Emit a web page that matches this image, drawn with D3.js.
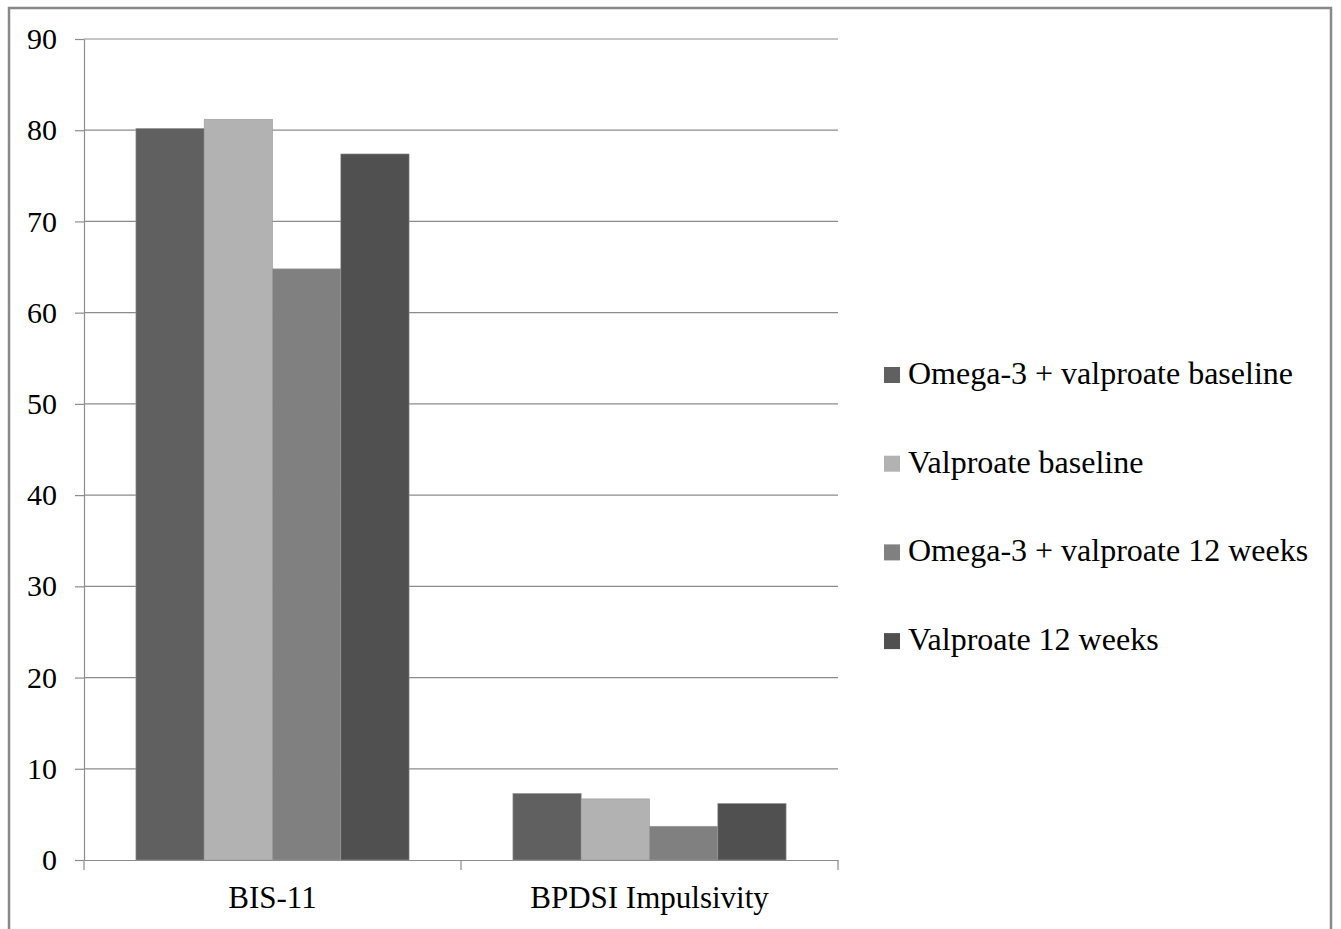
<!DOCTYPE html>
<html>
<head>
<meta charset="utf-8">
<script src="https://cdn.jsdelivr.net/npm/d3@7"></script>
<style>
  body { margin: 0; background: #fff; }
  text { font-family: "Liberation Serif", "Times New Roman", serif; fill: #000; }
</style>
</head>
<body>
<svg id="chart" width="1341" height="929"></svg>
<script>
var categories = ["BIS-11", "BPDSI Impulsivity"];
var series = ["Omega-3 + valproate baseline", "Valproate baseline", "Omega-3 + valproate 12 weeks", "Valproate 12 weeks"];
var omegaBaseline = [80.2, 7.3];
var valproateBaseline = [81.2, 6.7];
var omega12 = [64.8, 3.7];
var valproate12 = [77.4, 6.2];
var yTicks = [0, 10, 20, 30, 40, 50, 60, 70, 80, 90];
var colors = ["#606060", "#b2b2b2", "#808080", "#505050"];

var values = [omegaBaseline, valproateBaseline, omega12, valproate12];

var svg = d3.select("#chart"),
    plotLeft = 84, plotRight = 838, plotTop = 39, plotBottom = 860;

// outer frame (no bottom edge visible in the original)
svg.append("path")
    .attr("d", "M9,929V8H1331V929")
    .attr("fill", "none")
    .attr("stroke", "#898989")
    .attr("stroke-width", 2.5);

var x0 = d3.scaleBand().domain(categories).range([plotLeft, plotRight]),
    x1 = d3.scaleBand().domain(series).range([0, x0.bandwidth()]).paddingInner(0).paddingOuter(0.76),
    y = d3.scaleLinear().domain([0, 90]).range([plotBottom, plotTop]);

// gridlines
svg.append("g")
  .selectAll("line")
  .data(yTicks.filter(d => d > 0))
  .enter().append("line")
    .attr("x1", plotLeft).attr("x2", plotRight)
    .attr("y1", d => y(d)).attr("y2", d => y(d))
    .attr("stroke", "#8c8c8c")
    .attr("stroke-width", 1.2);

// bars
var group = svg.append("g")
  .selectAll("g")
  .data(categories)
  .enter().append("g")
    .attr("transform", d => "translate(" + x0(d) + ",0)");

group.selectAll("rect")
    .data((c, ci) => series.map((s, si) => ({s: s, si: si, v: values[si][ci]})))
    .enter().append("rect")
    .attr("x", d => x1(d.s))
    .attr("y", d => y(d.v))
    .attr("width", x1.bandwidth())
    .attr("height", d => y(0) - y(d.v))
    .attr("fill", d => colors[d.si])
    .attr("stroke", "#9a9a9a")
    .attr("stroke-width", 0.6);

// y axis
var yAxis = svg.append("g")
    .attr("transform", "translate(" + plotLeft + ",0)")
    .call(d3.axisLeft(y).tickValues(yTicks).tickSize(9).tickPadding(18).tickSizeOuter(0));
yAxis.select(".domain").attr("stroke", "#8c8c8c").attr("stroke-width", 1.2);
yAxis.selectAll(".tick line").attr("stroke", "#8c8c8c").attr("stroke-width", 1.2);
yAxis.selectAll(".tick text")
    .attr("font-family", "Liberation Serif")
    .attr("font-size", 30)
    .attr("fill", "#000");

// x axis
var xAxis = svg.append("g")
    .attr("transform", "translate(0," + plotBottom + ")")
    .call(d3.axisBottom(x0).tickSize(0).tickPadding(0).tickSizeOuter(0));
xAxis.select(".domain").attr("stroke", "#8c8c8c").attr("stroke-width", 1.2);
xAxis.selectAll(".tick text")
    .attr("font-family", "Liberation Serif")
    .attr("font-size", 31)
    .attr("fill", "#000")
    .attr("dy", null)
    .attr("y", 48);

// category boundary ticks
svg.append("g")
  .selectAll("line")
  .data(x0.range().concat(categories.slice(1).map(c => x0(c))))
  .enter().append("line")
    .attr("x1", d => d).attr("x2", d => d)
    .attr("y1", plotBottom).attr("y2", plotBottom + 10)
    .attr("stroke", "#8c8c8c")
    .attr("stroke-width", 1.2);

// legend
var legend = svg.append("g")
  .selectAll("g")
  .data(series)
  .enter().append("g")
    .attr("transform", (d, i) => "translate(884," + (384 + i * 88.7) + ")");

legend.append("rect")
    .attr("x", 0).attr("y", -17)
    .attr("width", 16).attr("height", 16)
    .attr("fill", (d, i) => colors[i]);

legend.append("text")
    .attr("x", 24)
    .attr("y", 0)
    .attr("font-size", 32)
    .text(d => d);
</script>
</body>
</html>
